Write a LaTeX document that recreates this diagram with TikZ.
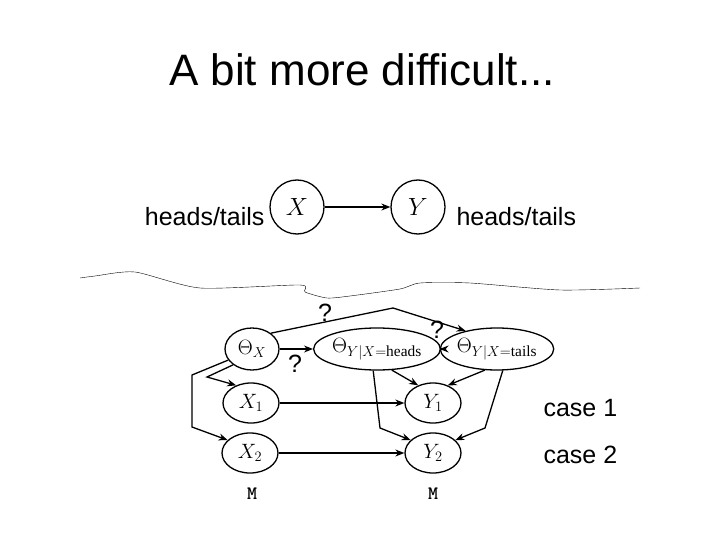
\documentclass[tikz,border=0pt]{standalone}
\usepackage{amsmath}
\usepackage{fontspec}
\setmainfont{Liberation Sans}
\newfontfamily\serif{Liberation Serif}
\usetikzlibrary{arrows.meta,shapes.geometric}
\begin{document}
\begin{tikzpicture}[x=1pt,y=-1pt,
  circ/.style={draw,line width=1.3pt,circle,minimum size=54pt,inner sep=0pt,font=\fontsize{28}{28}\selectfont},
  lbl/.style={font=\fontsize{25}{25}\selectfont},
  arr/.style={line width=1.3pt,-{Stealth[length=9pt,width=7pt]}},
  sm/.style={font=\fontsize{22}{22}\selectfont}]
\useasboundingbox (0,0) rectangle (720,540);
\node[font=\fontsize{44}{44}\selectfont] (title) at (362,70) {A bit more difficult...};
\node[circ] (X) at (297,207) {$X$};
\node[circ] (Y) at (418,207) {$Y$};
\draw[arr] (X) -- (Y);
\node[lbl,anchor=east] (hl) at (268,217) {heads/tails};
\node[lbl,anchor=west] (hr) at (453,217) {heads/tails};
\draw[thin] plot[smooth,tension=0.4] coordinates {(80,278) (95,276) (135,272) (200,288) (300,285) (305,292) (327,298) (350,296) (400,289) (420,283) (470,283) (560,290) (640,288)};
\tikzset{ov/.style={draw,line width=1.3pt,ellipse,minimum width=#1,minimum height=42pt,inner sep=0pt}}
\node[ov=54pt,sm] (tx) at (252,349) {$\Theta_X$};
\node[ov=104pt,sm] (th) at (377,349) {$\Theta_{Y|X=\text{\serif heads}}$};
\node[ov=104pt,sm] (tt) at (497,349) {$\Theta_{Y|X=\text{\serif tails}}$};
\node[ov=56pt,minimum height=40pt,sm] (x1) at (251,403) {$X_1$};
\node[ov=56pt,minimum height=40pt,sm] (y1) at (433,403) {$Y_1$};
\node[ov=56pt,minimum height=40pt,sm] (x2) at (250,453) {$X_2$};
\node[ov=56pt,minimum height=40pt,sm] (y2) at (433,453) {$Y_2$};
\node[font=\fontsize{19}{19}\selectfont\ttfamily\bfseries] (m1) at (252,494) {M};
\node[font=\fontsize{19}{19}\selectfont\ttfamily\bfseries] (m2) at (433,494) {M};
\node[lbl,anchor=west] (c1) at (540,408) {case 1};
\node[lbl,anchor=west] (c2) at (540,455) {case 2};
\node[lbl] (q1) at (325,313) {?};
\node[lbl] (q2) at (437,330) {?};
\node[lbl] (q3) at (295,364) {?};
\draw[arr] (tx) -- (th);
\draw[arr] (th) -- (tt);
\coordinate (a1) at (393,308);
\draw[arr] (tx.40) -- (a1) -- (tt.150);
\coordinate (b1) at (207,377);
\draw[arr] (tx.220) -- (b1) -- (x1.130);
\coordinate (c1a) at (192,375); \coordinate (c1b) at (192,427);
\draw[arr] (tx.205) -- (c1a) -- (c1b) -- (x2.150);
\draw[arr] (x1) -- (y1);
\draw[arr] (x2) -- (y2);
\draw[arr] (th.-55) -- (y1.130);
\coordinate (d1) at (380,428);
\draw[arr] (th.-100) -- (d1) -- (y2.150);
\draw[arr] (tt.-120) -- (y1.50);
\coordinate (e1) at (485,428);
\draw[arr] (tt.-75) -- (e1) -- (y2.30);
\end{tikzpicture}
\end{document}
